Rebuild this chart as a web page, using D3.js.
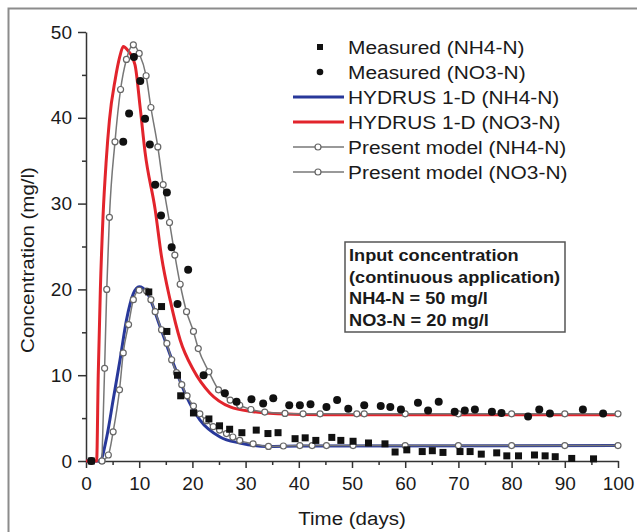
<!DOCTYPE html>
<html lang="en">
<head>
<meta charset="UTF-8">
<title>Concentration vs time</title>
<script src="https://cdn.jsdelivr.net/npm/d3@7"></script>
<style>
    body { margin: 0; background: #fff; }
    text { font-family: "Liberation Sans", Arial, sans-serif; fill: #1a1a1a; }
</style>
</head>
<body>
<svg id="chart" width="637" height="532"></svg>
<script>
    // measured points [day, mg/l]
    const measuredNH4 = [[1,0],[11.8,19.7],[14.2,18],[15.2,15.1],[17.2,10],[17.8,7.6],[20.2,5.6],[23.1,4.9],[25.1,4.1],
        [27,3.7],[29.3,3.3],[32,3.6],[34.2,3.2],[36.1,3.3],[39.3,2.6],[41.2,2.7],[43.2,2.4],[46.2,2.75],[47.9,2.4],
        [50.2,2.3],[53.1,2.1],[56.2,2.0],[58.1,1.05],[60.3,1.3],[63.2,1.1],[65.1,1.2],[67.1,1.0],[70.3,1.1],[72.2,1.1],
        [74.3,0.8],[77.2,0.95],[79.1,0.6],[81.3,0.6],[84.3,0.7],[86.3,0.6],[88.2,0.5],[91.3,0.3],[95.4,0.25]];
    const measuredNO3 = [[1,0],[7,37.2],[8.1,40.5],[9,47.1],[10.2,44.3],[11.1,39.9],[12,36.9],[13,32.2],[14.1,28.6],
        [15.2,31.3],[16.1,24.9],[17.2,18.3],[19.2,22.3],[22.1,10],[26.1,7.9],[28.3,6.9],[31.1,7.2],[33.3,6.7],[35.2,7.3],
        [38.2,6.5],[40.2,6.5],[42.2,6.6],[45.2,6.3],[47.2,7.1],[49.3,6.1],[52.3,6.5],[55.4,6.4],[57.2,6.3],[59.2,6.0],
        [62.4,6.8],[64.3,5.9],[66.3,6.9],[69.3,5.75],[71.2,5.9],[73.1,6.0],[76.3,5.75],[78.1,5.6],[83.1,5.2],[85.2,6.0],
        [87.2,5.55],[93.4,6.0],[97.2,5.55]];

    // HYDRUS 1-D simulated curves
    const hydrusNH4 = [[0,0],[2.6,0],[3.9,2.8],[5.1,7.1],[6.4,11.8],[7.6,16.4],[8.9,19.5],[10,20.3],[11.4,19.7],
        [13.9,15.7],[16.4,11.4],[18.9,7.5],[21.4,4.8],[25.2,2.8],[28.9,2.1],[34,1.7],[40,1.75],[100,1.8]];
    const hydrusNO3 = [[0,0],[2,0],[2.3,10],[2.7,20],[3.2,28.5],[3.8,35],[4.4,39.7],[5.5,44.5],[6.3,47],[7,48.3],
        [7.8,47.9],[9.2,46.2],[10.2,41.1],[11.1,36],[13,29.3],[14.2,23.8],[15.8,18.8],[17.7,14.1],[20.2,10.6],
        [23.3,7.9],[27.1,6.3],[31.4,5.75],[36,5.5],[45,5.4],[100,5.4]];

    // present model (line + open circles)
    const presentNH4 = [[3,0],[4.2,0.7],[5.1,3.4],[6.3,8.3],[7,12.6],[8,15.9],[8.9,18.8],[10,19.9],[11.4,19.8],
        [12.2,18.8],[13,17.4],[14.2,15.3],[15.2,13.7],[16.1,11.8],[17,10.3],[18,8.9],[19,7.6],[20.2,6.4],[21.4,5.5],
        [22.6,4.7],[23.9,4.0],[25.1,3.6],[26.4,3.2],[27.6,2.8],[28.9,2.4],[31.4,2.0],[34.3,1.7],[37.1,1.75],[40.2,1.8],
        [42.5,1.8],[45.2,1.8],[50.2,1.8],[60,1.8],[70,1.8],[80,1.8],[90,1.8],[100,1.8]];
    const presentNO3 = [[3,0],[3.5,10.8],[3.9,20],[4.4,28.4],[5.45,37.2],[6.5,43.3],[7.6,46.8],[8.9,48.5],[10,47.5],
        [11.3,44.9],[12.2,41.2],[13.5,36.6],[14.5,32.2],[15.7,27.8],[16.7,24],[17.7,20.6],[18.9,17.4],[20.2,15.1],
        [21.1,13.1],[23.1,10.4],[24.9,8.3],[27.1,7.1],[28.9,6.5],[31,6.0],[33.6,5.7],[37.4,5.55],[40.8,5.5],[44,5.5],
        [50.9,5.5],[52.3,5.5],[60,5.5],[70,5.5],[80,5.5],[90,5.5],[100,5.5]];

    const xMajor = d3.range(0, 101, 10);
    const yMajor = d3.range(0, 51, 10);
    const legendLabels = ["Measured (NH4-N)", "Measured (NO3-N)", "HYDRUS 1-D (NH4-N)",
        "HYDRUS 1-D (NO3-N)", "Present model (NH4-N)", "Present model (NO3-N)"];
    const noteLines = ["Input concentration", "(continuous application)", "NH4-N = 50 mg/l", "NO3-N = 20 mg/l"];

    const red = "#e2242c", blue = "#28389a", grey = "#777";

    const svg = d3.select("#chart");
    const x = d3.scaleLinear().domain([0, 100]).range([86, 618]);
    const y = d3.scaleLinear().domain([0, 50]).range([461, 32]);

    // outer frame
    svg.append("rect").attr("x", 8.5).attr("y", 8.5).attr("width", 640).attr("height", 540)
        .attr("fill", "none").attr("stroke", "#8c8c8c").attr("stroke-width", 2);

    // axes
    const xAxis = svg.append("g").attr("transform", `translate(0,${y(0)})`)
        .call(d3.axisBottom(x).tickValues(xMajor).tickSize(7).tickSizeOuter(0).tickPadding(9));
    svg.append("g").attr("transform", `translate(0,${y(0)})`)
        .call(d3.axisBottom(x).tickValues(d3.range(5, 100, 10)).tickSize(4).tickFormat(""))
        .call(g => g.select(".domain").remove());
    const yAxis = svg.append("g").attr("transform", `translate(${x(0)},0)`)
        .call(d3.axisLeft(y).tickValues(yMajor).tickSize(8).tickSizeOuter(0).tickPadding(6));
    svg.append("g").attr("transform", `translate(${x(0)},0)`)
        .call(d3.axisLeft(y).tickValues(d3.range(5, 50, 10)).tickSize(4).tickFormat(""))
        .call(g => g.select(".domain").remove());
    svg.selectAll(".domain, .tick line").attr("stroke", "#333").attr("stroke-width", 1.5);
    svg.selectAll(".tick text").attr("font-size", 19).attr("fill", "#1a1a1a")
        .attr("font-family", '"Liberation Sans", Arial, sans-serif');

    // axis titles
    svg.append("text").attr("transform", `translate(${x(50)},525) scale(1.08,1)`)
        .attr("text-anchor", "middle").attr("font-size", 19).text("Time (days)");
    svg.append("text").attr("transform", "translate(34,260) rotate(-90) scale(1.08,1)")
        .attr("text-anchor", "middle").attr("font-size", 19).text("Concentration (mg/l)");

    const line = d3.line().x(d => x(d[0])).y(d => y(d[1])).curve(d3.curveMonotoneX);

    svg.append("path").datum(hydrusNH4).attr("d", line)
        .attr("fill", "none").attr("stroke", blue).attr("stroke-width", 3);
    svg.append("path").datum(hydrusNO3).attr("d", line)
        .attr("fill", "none").attr("stroke", red).attr("stroke-width", 3);

    [presentNH4, presentNO3].forEach(s => {
        svg.append("path").datum(s).attr("d", line)
            .attr("fill", "none").attr("stroke", grey).attr("stroke-width", 1.5);
        svg.append("g").selectAll("circle").data(s).join("circle")
            .attr("cx", d => x(d[0])).attr("cy", d => y(d[1])).attr("r", 3)
            .attr("fill", "#fff").attr("stroke", "#666").attr("stroke-width", 1.2);
    });

    svg.append("g").selectAll("rect").data(measuredNH4).join("rect")
        .attr("x", d => x(d[0]) - 3.5).attr("y", d => y(d[1]) - 3.5)
        .attr("width", 7).attr("height", 7).attr("fill", "#111");
    svg.append("g").selectAll("circle").data(measuredNO3).join("circle")
        .attr("cx", d => x(d[0])).attr("cy", d => y(d[1])).attr("r", 4).attr("fill", "#111");

    // legend
    const legend = svg.append("g");
    legendLabels.forEach((lab, i) => {
        const cy = 47 + i * 25;
        const row = legend.append("g");
        if (i === 0) row.append("rect").attr("x", 317).attr("y", cy - 3).attr("width", 6).attr("height", 6).attr("fill", "#111");
        if (i === 1) row.append("circle").attr("cx", 320).attr("cy", cy).attr("r", 3.3).attr("fill", "#111");
        if (i === 2 || i === 3) row.append("line").attr("x1", 293).attr("x2", 344).attr("y1", cy).attr("y2", cy)
            .attr("stroke", i === 2 ? blue : red).attr("stroke-width", 3);
        if (i >= 4) {
            row.append("line").attr("x1", 293).attr("x2", 344).attr("y1", cy).attr("y2", cy)
                .attr("stroke", grey).attr("stroke-width", 1.5);
            row.append("circle").attr("cx", 318).attr("cy", cy).attr("r", 3)
                .attr("fill", "#fff").attr("stroke", "#666").attr("stroke-width", 1.2);
        }
        row.append("text").attr("transform", `translate(348,${cy + 6.5}) scale(1.1,1)`)
            .attr("font-size", 19).text(lab);
    });

    // input concentration note
    svg.append("rect").attr("x", 345).attr("y", 242).attr("width", 220).attr("height", 90)
        .attr("fill", "#fff").attr("stroke", "#555").attr("stroke-width", 1.5);
    noteLines.forEach((t, i) => {
        svg.append("text").attr("transform", `translate(349,${261 + i * 21.5}) scale(1.07,1)`)
            .attr("font-size", 17).attr("font-weight", "bold").text(t);
    });
</script>
</body>
</html>
